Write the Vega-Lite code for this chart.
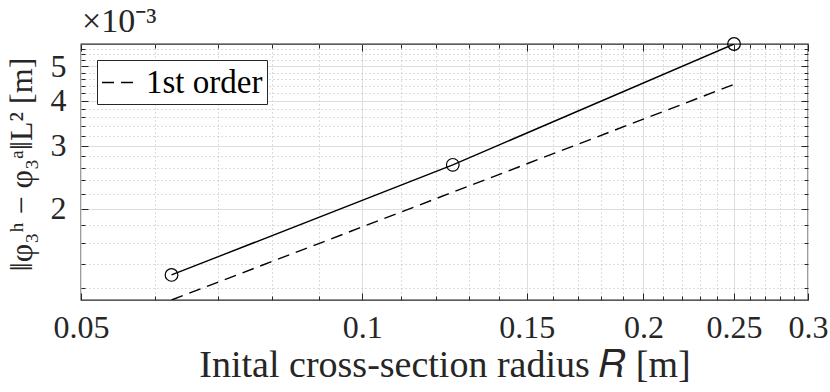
{
  "$schema": "https://vega.github.io/schema/vega-lite/v6.json",
  "width": 727,
  "height": 256,
  "autosize": {"type": "none"},
  "padding": {"left": 81, "top": 44, "right": 22, "bottom": 92},
  "background": "white",
  "title": {"text": "×10⁻³", "anchor": "start", "frame": "group", "offset": -4, "fontSize": 34, "font": "Liberation Serif", "fontWeight": "normal", "color": "#262626", "dx": 1},
  "config": {
    "view": {"stroke": "#262626", "strokeWidth": 1.3},
    "font": "Liberation Serif",
    "axis": {
      "labelFont": "Liberation Serif", "titleFont": "Liberation Serif",
      "labelColor": "#262626", "titleColor": "#262626", "tickColor": "#262626",
      "domain": false, "titleFontWeight": "normal", "labelFontSize": 32, "titleFontSize": 38,
      "labelFlush": false, "labelOverlap": false, "labelBound": false, "tickWidth": 1
    }
  },
  "datasets": {
    "sim": [
      {"R": 0.0625, "err": 0.001307},
      {"R": 0.125, "err": 0.002653},
      {"R": 0.25, "err": 0.00577}
    ],
    "ref": [
      {"R": 0.0625, "err": 0.0011125, "series": "1st order"},
      {"R": 0.25, "err": 0.00445, "series": "1st order"}
    ]
  },
  "layer": [
    {
      "data": {"name": "sim"},
      "mark": {"type": "line", "color": "black", "strokeWidth": 1.4, "clip": true},
      "encoding": {
        "x": {"field": "R", "type": "quantitative",
          "scale": {"type": "log", "domain": [0.05, 0.3], "nice": false, "zero": false},
          "axis": {"orient": "bottom", "values": [0.05, 0.1, 0.15, 0.2, 0.25, 0.3], "format": "~g",
            "labelFont": "Liberation Serif", "titleFont": "Liberation Serif", "labelFontSize": 32,
            "tickSize": -7, "labelPadding": 19, "grid": true, "gridColor": "#dedede", "gridWidth": 1,
            "title": "Inital cross-section radius 𝑅 [m]", "titleFontSize": 38, "titlePadding": 3}},
        "y": {"field": "err", "type": "quantitative",
          "scale": {"type": "log", "domain": [0.0011125, 0.00577], "nice": false, "zero": false},
          "axis": {"orient": "left", "values": [0.002, 0.003, 0.004, 0.005],
            "labelExpr": "format(datum.value*1000, '.0f')",
            "labelFont": "Liberation Serif", "titleFont": "Liberation Serif", "labelFontSize": 32,
            "tickSize": -7, "labelPadding": 22, "grid": true, "gridColor": "#dedede", "gridWidth": 1,
            "title": "‖φ₃ʰ − φ₃ᵃ‖L² [m]", "titleFontSize": 32, "titleX": -60, "titleY": 120,
            "titleAlign": "center", "titleBaseline": "middle", "titleAngle": -90}}
      }
    },
    {
      "data": {"name": "ref"},
      "mark": {"type": "line", "color": "black", "strokeWidth": 1.4, "clip": true},
      "encoding": {
        "x": {"field": "R", "type": "quantitative",
          "scale": {"type": "log", "domain": [0.05, 0.3], "nice": false, "zero": false},
          "axis": {"orient": "bottom", "values": [0.06, 0.07, 0.08, 0.09, 0.11, 0.12, 0.13, 0.14, 0.16, 0.17, 0.18, 0.19, 0.21, 0.22, 0.23, 0.24, 0.26, 0.27, 0.28, 0.29],
            "labels": false, "tickSize": -4, "grid": true, "gridColor": "#b8b8b8", "gridDash": [1, 3], "gridWidth": 1, "title": null}},
        "y": {"field": "err", "type": "quantitative",
          "scale": {"type": "log", "domain": [0.0011125, 0.00577], "nice": false, "zero": false},
          "axis": {"orient": "left", "values": [0.0012, 0.0014, 0.0016, 0.0018, 0.0022, 0.0024, 0.0026, 0.0028, 0.0032, 0.0034, 0.0036, 0.0038, 0.0042, 0.0044, 0.0046, 0.0048, 0.0052, 0.0054, 0.0056],
            "labels": false, "tickSize": -4, "grid": true, "gridColor": "#b8b8b8", "gridDash": [1, 3], "gridWidth": 1, "title": null}},
        "strokeDash": {"field": "series", "type": "nominal",
          "scale": {"domain": ["1st order"], "range": [[12, 7]]},
          "legend": {"orient": "none", "legendX": 16, "legendY": 16, "title": null,
            "strokeColor": "#262626", "fillColor": "white", "padding": 4, "cornerRadius": 0,
            "labelFont": "Liberation Serif", "labelFontSize": 33, "labelColor": "black", "labelOffset": 8,
            "symbolType": "stroke", "symbolStrokeColor": "black", "symbolStrokeWidth": 1.3, "symbolSize": 1225}}
      }
    },
    {
      "data": {"name": "sim"},
      "mark": {"type": "point", "shape": "circle", "filled": false, "color": "black", "strokeWidth": 1.2, "size": 160, "opacity": 1},
      "encoding": {
        "x": {"field": "R", "type": "quantitative",
          "scale": {"type": "log", "domain": [0.05, 0.3], "nice": false, "zero": false},
          "axis": {"orient": "top", "values": [0.05, 0.1, 0.15, 0.2, 0.25, 0.3], "labels": false, "tickSize": -7, "grid": false, "title": null}},
        "y": {"field": "err", "type": "quantitative",
          "scale": {"type": "log", "domain": [0.0011125, 0.00577], "nice": false, "zero": false},
          "axis": {"orient": "right", "values": [0.002, 0.003, 0.004, 0.005], "labels": false, "tickSize": -7, "grid": false, "title": null}}
      }
    },
    {
      "data": {"name": "sim"},
      "mark": {"type": "line", "color": "black", "strokeOpacity": 0, "clip": true},
      "encoding": {
        "x": {"field": "R", "type": "quantitative",
          "scale": {"type": "log", "domain": [0.05, 0.3], "nice": false, "zero": false},
          "axis": {"orient": "top", "values": [0.06, 0.07, 0.08, 0.09, 0.11, 0.12, 0.13, 0.14, 0.16, 0.17, 0.18, 0.19, 0.21, 0.22, 0.23, 0.24, 0.26, 0.27, 0.28, 0.29], "labels": false, "tickSize": -4, "grid": false, "title": null}},
        "y": {"field": "err", "type": "quantitative",
          "scale": {"type": "log", "domain": [0.0011125, 0.00577], "nice": false, "zero": false},
          "axis": {"orient": "right", "values": [0.0012, 0.0014, 0.0016, 0.0018, 0.0022, 0.0024, 0.0026, 0.0028, 0.0032, 0.0034, 0.0036, 0.0038, 0.0042, 0.0044, 0.0046, 0.0048, 0.0052, 0.0054, 0.0056], "labels": false, "tickSize": -4, "grid": false, "title": null}}
      }
    }
  ],
  "resolve": {"axis": {"x": "independent", "y": "independent"}}
}
